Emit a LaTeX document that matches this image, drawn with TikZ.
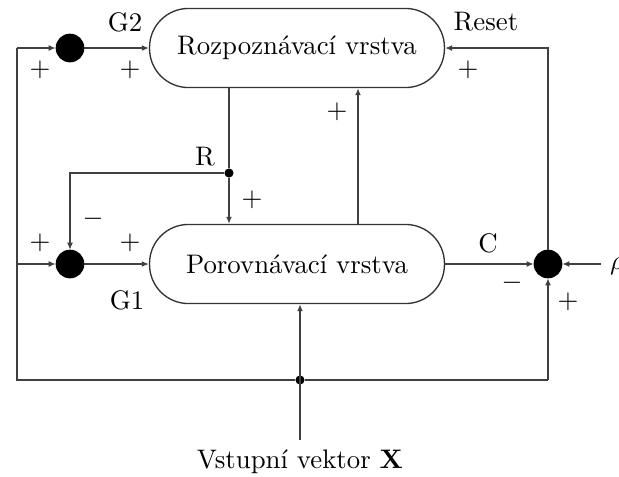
\documentclass[tikz,border=0pt]{standalone}
\usetikzlibrary{arrows.meta}
\begin{document}
\begin{tikzpicture}[x=0.373pt,y=-0.373pt,
  line width=0.5pt, draw=black!75,
  tip/.style={-{Latex[length=2.6pt,width=2.2pt]}},
  layer/.style={draw=black!80, line width=0.5pt, rounded corners=14.5pt, minimum width=110pt, minimum height=29.5pt, inner sep=0pt},
  junc/.style={circle, fill=black, draw=black, minimum size=10.2pt, inner sep=0pt},
  tdot/.style={circle, fill=black, inner sep=0pt, minimum size=3.4pt},
  lbl/.style={inner sep=1pt}]
\useasboundingbox (0,0) rectangle (619,477);
% layers
\node[layer] (T) at (297,48) {Rozpozn\'avac\'i vrstva};
\node[layer] (B) at (297,264) {Porovn\'avac\'i vrstva};
% junctions
\node[junc] (G2) at (70,48) {};
\node[junc] (G1) at (70,264) {};
\node[junc] (J) at (548,264) {};
% coordinates
\coordinate (L1) at (17,48);
\coordinate (L2) at (17,264);
\coordinate (L3) at (17,380);
\node[tdot] (Bd) at (300,380) {};
\coordinate (Rb) at (548,380);
\coordinate (X) at (300,440);
\node[tdot] (Rd) at (229,173) {};
\coordinate (Up) at (358,150);
\coordinate (RhoIn) at (601,264);
% connectors
\draw[tip] (L1) -- (G2);
\draw[tip] (G2) -- (T);
\draw (L1) -- (L3) -- (Bd) -- (Rb);
\draw[tip] (Rb) -- (J);
\draw[tip] (L2) -- (G1);
\draw[tip] (G1) -- (B);
\draw[tip] (X) -- (X |- B.south);
\draw (T.south -| Rd) -- (Rd);
\draw[tip] (Rd) -- (B.north -| Rd);
\draw[tip] (Rd) -- (Rd -| G1) -- (G1);
\draw[tip] (B.north -| Up) -- (T.south -| Up);
\draw[tip] (J) -- (J |- T) -- (T);
\draw[tip] (B) -- (J);
\draw[tip] (RhoIn) -- (J);
% labels
\node[lbl] (tG2) at (125,22) {G2};
\node[lbl] (tReset) at (486,22) {Reset};
\node[lbl] (p1) at (40,70) {$+$};
\node[lbl] (p2) at (130,70) {$+$};
\node[lbl] (p3) at (468,70) {$+$};
\node[lbl] (p4) at (337,112) {$+$};
\node[lbl] (tR) at (205,157) {R};
\node[lbl] (p5) at (252,200) {$+$};
\node[lbl] (m1) at (93,219) {$-$};
\node[lbl] (p6) at (40,243) {$+$};
\node[lbl] (p7) at (130,243) {$+$};
\node[lbl] (tG1) at (127,300) {G1};
\node[lbl] (tC) at (488,243) {C};
\node[lbl] (m2) at (512,283) {$-$};
\node[lbl] (p8) at (568,302) {$+$};
\node[lbl] (rho) at (617,266) {$\rho$};
\node[lbl] (tX) at (300,462) {Vstupn\'i vektor $\mathbf{X}$};
\end{tikzpicture}
\end{document}
